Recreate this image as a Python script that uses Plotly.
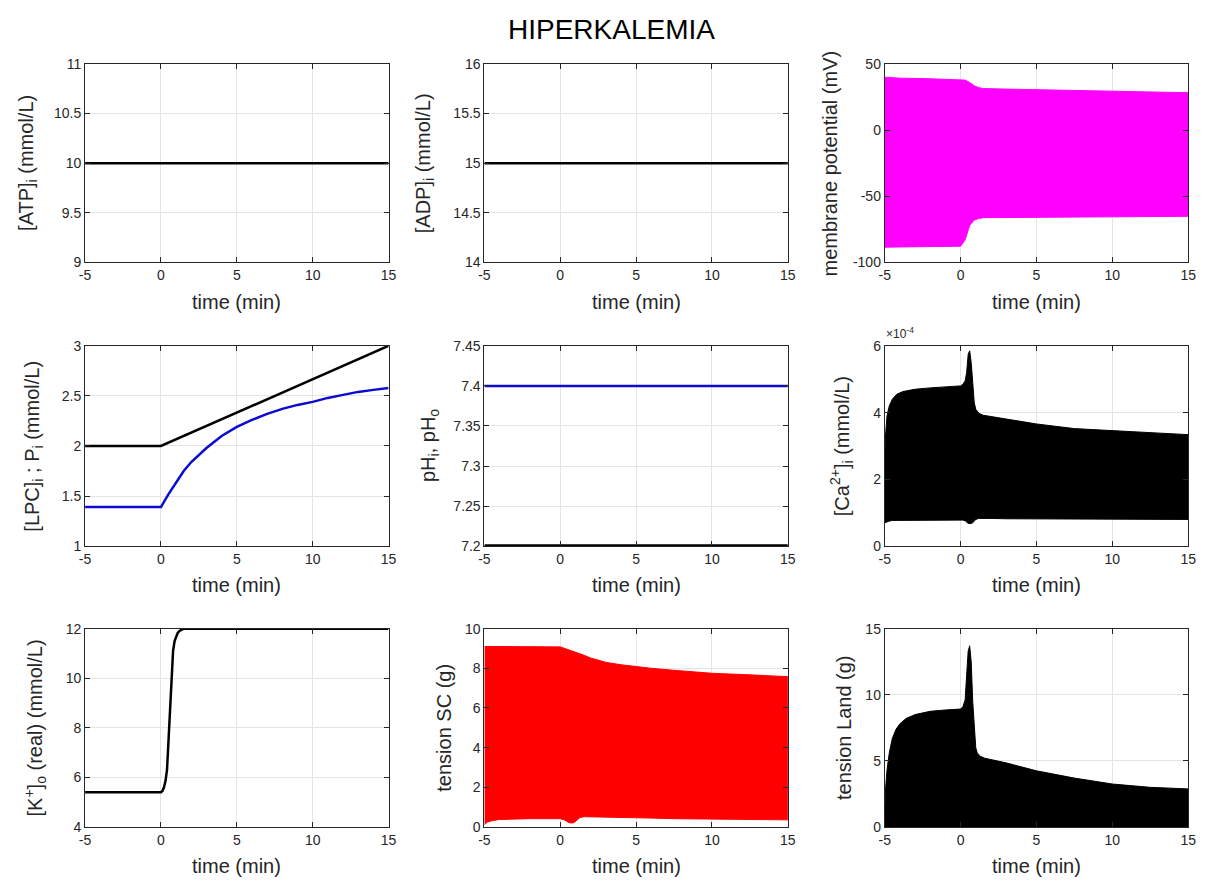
import plotly.graph_objects as go

W, H = 1211, 890
FONT = "Liberation Sans"
AXC = "#262626"

# ---------------- data ----------------
x_tick_vals = [-5, 0, 5, 10, 15]
x_tick_labels = ["-5", "0", "5", "10", "15"]

atp_t = [-5, 15]
atp_v = [10, 10]

adp_t = [-5, 15]
adp_v = [15, 15]

mp_t = [-5, -4, -2, 0, 0.3, 0.6, 0.9, 1.2, 1.5, 3, 5, 10, 15]
mp_upper = [40, 39.3, 38.8, 38.4, 37.8, 36, 33.5, 32.1, 31.4, 31, 30.5, 29.4, 28.3]
mp_lower = [-88.5, -88.3, -88, -87.8, -83, -72, -68, -66.8, -66.2, -65.8, -65.6, -65.4, -65.2]

lpc_t = [-5, 0, 15]
lpc_v = [2, 2, 3]
pi_t = [-5, 0, 0.5, 1, 1.5, 2, 3, 4, 5, 6, 7, 8, 9, 10, 11, 12, 13, 14, 15]
pi_v = [1.39, 1.39, 1.52, 1.64, 1.75, 1.84, 1.98, 2.1, 2.19, 2.26, 2.32, 2.37, 2.41,
        2.44, 2.48, 2.51, 2.54, 2.56, 2.58]

ph_t = [-5, 15]
phi_v = [7.2, 7.2]
pho_v = [7.4, 7.4]

ca_t = [-5, -4.95, -4.85, -4.7, -4.5, -4.2, -3.8, -3, -2, -1, 0, 0.15, 0.3, 0.4, 0.5,
        0.6, 0.7, 0.8, 0.9, 1.0, 1.2, 1.5, 2, 3, 5, 7.5, 10, 12.5, 15]
ca_upper = [2.7e-4, 3.3e-4, 3.9e-4, 4.2e-4, 4.4e-4, 4.55e-4, 4.63e-4, 4.7e-4, 4.74e-4,
            4.77e-4, 4.8e-4, 4.85e-4, 4.95e-4, 5.2e-4, 5.75e-4, 5.85e-4, 5.5e-4, 4.9e-4,
            4.3e-4, 4.1e-4, 3.98e-4, 3.92e-4, 3.88e-4, 3.8e-4, 3.66e-4, 3.52e-4,
            3.46e-4, 3.4e-4, 3.34e-4]
ca_lower = [0.7e-4, 0.7e-4, 0.72e-4, 0.75e-4, 0.77e-4, 0.78e-4, 0.78e-4, 0.78e-4,
            0.78e-4, 0.78e-4, 0.78e-4, 0.78e-4, 0.76e-4, 0.72e-4, 0.68e-4, 0.68e-4,
            0.68e-4, 0.7e-4, 0.74e-4, 0.8e-4, 0.83e-4, 0.83e-4, 0.83e-4, 0.82e-4,
            0.81e-4, 0.8e-4, 0.8e-4, 0.8e-4, 0.8e-4]
ca_ticks = [0, 2e-4, 4e-4, 6e-4]
ca_tick_labels = ["0", "2", "4", "6"]

k_t = [-5, -1, 0, 0.1, 0.2, 0.3, 0.4, 0.5, 0.6, 0.7, 0.8, 0.9, 1.0, 1.1, 1.2, 1.4, 1.6, 3, 15]
k_v = [5.4, 5.4, 5.4, 5.45, 5.6, 5.85, 6.3, 7.5, 8.85, 10.2, 11.1, 11.5, 11.7, 11.82,
       11.9, 11.97, 12.0, 12.0, 12.0]

sc_t = [-5, -4.8, -4.5, -4, -2, 0, 0.3, 0.5, 0.7, 0.9, 1.1, 1.3, 1.6, 2, 3, 4, 5, 6,
        7.5, 10, 12.5, 15]
sc_upper = [9.1, 9.1, 9.1, 9.1, 9.1, 9.08, 9.0, 8.95, 8.9, 8.85, 8.8, 8.73, 8.65, 8.52,
            8.3, 8.18, 8.08, 8.0, 7.9, 7.75, 7.67, 7.58]
sc_lower = [0.12, 0.25, 0.32, 0.38, 0.42, 0.42, 0.35, 0.25, 0.2, 0.22, 0.35, 0.48, 0.52,
            0.52, 0.5, 0.48, 0.46, 0.45, 0.42, 0.38, 0.37, 0.36]

land_t = [-5, -4.95, -4.85, -4.7, -4.5, -4.25, -4, -3.6, -3, -2, -1, 0, 0.15, 0.3, 0.4,
          0.5, 0.6, 0.7, 0.8, 0.9, 1.0, 1.1, 1.3, 1.6, 2, 3, 5, 7.5, 10, 12.5, 15]
land_upper = [1.0, 2.8, 4.3, 5.6, 6.7, 7.4, 7.8, 8.2, 8.5, 8.75, 8.85, 8.92, 9.1, 9.6,
              11.5, 13.3, 13.7, 12.5, 9.5, 7.2, 6.0, 5.6, 5.35, 5.2, 5.1, 4.85, 4.25,
              3.7, 3.25, 3.0, 2.88]

title_text = "HIPERKALEMIA"
x_title = "time (min)"
y_titles = [
    "[ATP]<sub>i</sub> (mmol/L)",
    "[ADP]<sub>i</sub> (mmol/L)",
    "membrane potential (mV)",
    "[LPC]<sub>i</sub> ; P<sub>i</sub> (mmol/L)",
    "pH<sub>i</sub>, pH<sub>o</sub>",
    "[Ca<sup>2+</sup>]<sub>i</sub> (mmol/L)",
    "[K<sup>+</sup>]<sub>o</sub> (real) (mmol/L)",
    "tension SC (g)",
    "tension Land (g)",
]
y_ranges = [[9, 11], [14, 16], [-100, 50], [1, 3], [7.2, 7.45], [0, 6e-4], [4, 12], [0, 10], [0, 15]]
y_tickvals = [
    [9, 9.5, 10, 10.5, 11],
    [14, 14.5, 15, 15.5, 16],
    [-100, -50, 0, 50],
    [1, 1.5, 2, 2.5, 3],
    [7.2, 7.25, 7.3, 7.35, 7.4, 7.45],
    ca_ticks,
    [4, 6, 8, 10, 12],
    [0, 2, 4, 6, 8, 10],
    [0, 5, 10, 15],
]
y_ticktext = [
    ["9", "9.5", "10", "10.5", "11"],
    ["14", "14.5", "15", "15.5", "16"],
    ["-100", "-50", "0", "50"],
    ["1", "1.5", "2", "2.5", "3"],
    ["7.2", "7.25", "7.3", "7.35", "7.4", "7.45"],
    ca_tick_labels,
    ["4", "6", "8", "10", "12"],
    ["0", "2", "4", "6", "8", "10"],
    ["0", "5", "10", "15"],
]

# ---------------- layout geometry (pixels) ----------------
col_px = [(80, 387), (484, 791), (889, 1196)]
row_px = [(57, 259), (344, 548), (632, 834)]
ytitle_x_px = [21, 423, 834, 28, 429, 846, 30, 443, 848]


def px_x(p):
    return p / W


def px_y(p):
    return 1 - p / H


fig = go.Figure()

BLACK = "#000000"
BLUE = "#0a0ad2"
MAGENTA = "#ff00ff"
RED = "#ff0000"
LW = 2.5


def ax(i):
    return ("x" if i == 1 else f"x{i}"), ("y" if i == 1 else f"y{i}")


def line(i, t, v, color, width=LW):
    xa, ya = ax(i)
    fig.add_trace(go.Scatter(x=t, y=v, mode="lines", line=dict(color=color, width=width),
                             xaxis=xa, yaxis=ya, showlegend=False, hoverinfo="skip"))


def band(i, t, lo, hi, color):
    xa, ya = ax(i)
    fig.add_trace(go.Scatter(x=list(t) + list(t)[::-1], y=list(hi) + list(lo)[::-1],
                             mode="lines", fill="toself", fillcolor=color,
                             line=dict(color=color, width=1),
                             xaxis=xa, yaxis=ya, showlegend=False, hoverinfo="skip"))


line(1, atp_t, atp_v, BLACK)
line(2, adp_t, adp_v, BLACK)
band(3, mp_t, mp_lower, mp_upper, MAGENTA)
line(4, lpc_t, lpc_v, BLACK)
line(4, pi_t, pi_v, BLUE)
line(5, ph_t, phi_v, BLACK, width=4)
line(5, ph_t, pho_v, BLUE)
band(6, ca_t, ca_lower, ca_upper, BLACK)
line(7, k_t, k_v, BLACK)
band(8, sc_t, sc_lower, sc_upper, RED)
xa9, ya9 = ax(9)
fig.add_trace(go.Scatter(x=land_t, y=land_upper, mode="lines", fill="tozeroy",
                         fillcolor=BLACK, line=dict(color=BLACK, width=1),
                         xaxis=xa9, yaxis=ya9, showlegend=False, hoverinfo="skip"))

tickfont = dict(family=FONT, size=14, color=AXC)
common = dict(showgrid=True, gridcolor="#e4e4e4", gridwidth=1, showline=True,
              linecolor=AXC, linewidth=1, mirror="ticks", ticks="inside", ticklen=5,
              tickcolor=AXC, tickfont=tickfont, zeroline=False, fixedrange=True)

layout = dict(width=W, height=H, margin=dict(l=0, r=0, t=0, b=0),
              paper_bgcolor="white", plot_bgcolor="white", showlegend=False)

annotations = []
for i in range(1, 10):
    r, c = (i - 1) // 3, (i - 1) % 3
    x0, x1 = col_px[c]
    y0, y1 = row_px[r]
    xk = "xaxis" if i == 1 else f"xaxis{i}"
    yk = "yaxis" if i == 1 else f"yaxis{i}"
    xa, ya = ax(i)
    layout[xk] = dict(domain=[px_x(x0), px_x(x1)], anchor=ya, range=[-5, 15],
                      tickvals=x_tick_vals, ticktext=x_tick_labels, **common)
    layout[yk] = dict(domain=[px_y(y1), px_y(y0)], anchor=xa, range=y_ranges[i - 1],
                      tickvals=y_tickvals[i - 1], ticktext=y_ticktext[i - 1], **common)
    annotations.append(dict(text=x_title, x=px_x((x0 + x1) / 2), y=px_y(y1 + 40),
                            xref="paper", yref="paper", showarrow=False,
                            xanchor="center", yanchor="middle",
                            font=dict(family=FONT, size=20, color=AXC)))
    annotations.append(dict(text=y_titles[i - 1], x=px_x(ytitle_x_px[i - 1]),
                            y=px_y((y0 + y1) / 2), xref="paper", yref="paper",
                            showarrow=False, textangle=-90, xanchor="center",
                            yanchor="middle", font=dict(family=FONT, size=20, color=AXC)))

annotations.append(dict(text="×10<sup>-4</sup>", x=px_x(888), y=px_y(341), xref="paper",
                        yref="paper", showarrow=False, xanchor="left", yanchor="bottom",
                        font=dict(family=FONT, size=12, color=AXC)))
annotations.append(dict(text=title_text, x=px_x(613), y=px_y(22), xref="paper",
                        yref="paper", showarrow=False, xanchor="center", yanchor="middle",
                        font=dict(family=FONT, size=28, color="#000000")))
layout["annotations"] = annotations

fig.update_layout(**layout)
fig.write_html("out.html")
